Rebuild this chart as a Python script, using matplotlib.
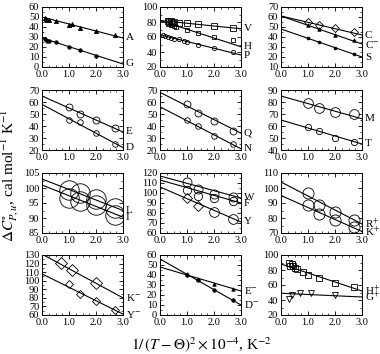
import matplotlib
matplotlib.use("Agg")
import matplotlib.pyplot as plt
import numpy as np
from matplotlib.ticker import MultipleLocator

plt.rcParams['font.family'] = ['Liberation Serif', 'DejaVu Serif']
plt.rcParams['mathtext.fontset'] = 'stix'
plt.rcParams['xtick.direction'] = 'in'
plt.rcParams['ytick.direction'] = 'in'
plt.rcParams['xtick.top'] = True
plt.rcParams['ytick.right'] = True

A_x = [0.1, 0.15, 0.2, 0.25, 0.5, 1.0, 1.1, 1.4, 2.0, 2.7]
A_y = [49, 48, 47, 47, 46, 42, 43, 39, 36, 32]
G_x = [0.1, 0.2, 0.25, 0.5, 1.0, 1.4, 2.0]
G_y = [28, 26, 26, 25, 20, 17, 11]

V_x = [0.3, 0.35, 0.4, 0.45, 0.5, 0.7, 1.0, 1.4, 2.0, 2.7]
V_y = [81, 80, 81, 79, 80, 79, 79, 78, 75, 72]
H_x = [0.3, 0.4, 0.5, 0.6, 1.0, 1.4, 2.0, 2.7]
H_y = [77, 76, 75, 74, 70, 66, 60, 56]
P_x = [0.1, 0.2, 0.3, 0.4, 0.5, 0.7, 0.9, 1.0, 1.4, 2.0, 2.7]
P_y = [63, 62, 60, 59, 58, 57, 55, 54, 50, 45, 40]

C_x = [1.0, 1.4, 2.0, 2.7]
C_y = [55, 52, 49, 45]
Cm_y = [52, 48, 42, 37]
S_y = [39, 35, 29, 23]

E_y = [56, 50, 45, 38]
D_y = [45, 43, 34, 25]
Q_y = [58, 51, 44, 36]
N_y = [45, 40, 32, 25]
M_y = [79, 75, 72, 70]
T_y = [59, 56, 50, 47]
L_y = [99.2, 98.5, 96.2, 93.2]
I_y = [96.8, 95.6, 94.4, 90.9]
W_y = [111, 104, 99, 96]
F_y = [103, 97, 95, 92]
Yd_x = [1.0, 1.4]
Yd_y = [95, 87]
Yc_x = [2.0, 2.7]
Yc_y = [81, 74]
R_y = [97, 89, 84, 79]
K_y = [89, 83, 79, 74]

Km_x = [0.7, 1.1, 2.0]
Km_y = [121, 112, 97]
Ym_x = [1.0, 1.4, 2.0, 2.7]
Ym_y = [96, 85, 76, 66]
Em_y = [41, 36, 31, 26]
Dm_y = [40, 35, 25, 15]

Hp_x = [0.3, 0.35, 0.4, 0.45, 0.5, 0.6, 0.8, 1.0, 1.4, 2.0, 2.7]
Hp_y = [89, 86, 88, 85, 83, 81, 78, 74, 69, 63, 57]
Gp_x = [0.3, 0.4, 0.7, 1.1, 2.0]
Gp_y = [42, 47, 50, 50, 47]

# fitted lines: value at x=0 and at x=3
fits = {
    'A': (50, 29), 'G': (29, 3),
    'V': (82, 71), 'H': (82, 47), 'P': (63, 36),
    'C': (61, 42), 'C-': (61, 33), 'S': (48, 20),
    'E': (65, 35), 'D': (58, 22),
    'Q': (68, 34), 'N': (56, 21),
    'M': (85, 66), 'T': (65, 45),
    'L': (103, 92.5), 'I': (101, 90.3),
    'W': (117, 95), 'F': (113, 90), 'Y': (106, 71),
    'R+': (104, 76), 'K+': (95, 71),
    'K-': (131, 80), 'Y-': (108, 61),
    'E-': (48, 24), 'D-': (56, 10),
    'H+': (88, 52), 'G+': (49, 44),
}
labels = {'C-': 'C$^{-}$', 'R+': 'R$^{+}$', 'K+': 'K$^{+}$', 'K-': 'K$^{-}$',
          'Y-': 'Y$^{-}$', 'E-': 'E$^{-}$', 'D-': 'D$^{-}$', 'H+': 'H$^{+}$',
          'G+': 'G$^{+}$'}

# (ylim, y step, lines, marker sets (x, y, marker, size, filled))
panels = [
    ((0, 60), 10, ['A', 'G'],
     [(A_x, A_y, '^', 3, True), (G_x, G_y, 'o', 2.5, True)]),
    ((20, 100), 20, ['V', 'H', 'P'],
     [(V_x, V_y, 's', 4, False), (H_x, H_y, 's', 3.5, False), (P_x, P_y, 'o', 3, False)]),
    ((10, 70), 10, ['C', 'C-', 'S'],
     [(C_x, C_y, 'D', 4.5, False), (C_x, Cm_y, '^', 2.5, True), (C_x, S_y, 'o', 2, True)]),
    ((20, 70), 10, ['E', 'D'],
     [(C_x, E_y, 'o', 5, False), (C_x, D_y, 'o', 4, False)]),
    ((20, 70), 10, ['Q', 'N'],
     [(C_x, Q_y, 'o', 5, False), (C_x, N_y, 'o', 4, False)]),
    ((40, 90), 10, ['M', 'T'],
     [(C_x, M_y, 'o', 7, False), (C_x, T_y, 'o', 4.5, False)]),
    ((85, 105), 5, ['L', 'I'],
     [(C_x, L_y, 'o', 14, False), (C_x, I_y, 'o', 14, False)]),
    ((60, 120), 10, ['W', 'F', 'Y'],
     [(C_x, W_y, 'o', 6.5, False), (C_x, F_y, 'o', 6, False),
      (Yd_x, Yd_y, 'D', 5.5, False), (Yc_x, Yc_y, 'o', 7, False)]),
    ((70, 110), 10, ['R+', 'K+'],
     [(C_x, R_y, 'o', 8, False), (C_x, K_y, 'o', 8, False)]),
    ((60, 130), 10, ['K-', 'Y-'],
     [(Km_x, Km_y, 'D', 6, False), (Ym_x, Ym_y, 'D', 4, False)]),
    ((0, 60), 10, ['E-', 'D-'],
     [(C_x, Em_y, '^', 2.5, True), (C_x, Dm_y, 'o', 2.5, True)]),
    ((20, 100), 20, ['H+', 'G+'],
     [(Hp_x, Hp_y, 's', 4, False), (Gp_x, Gp_y, 'v', 4, False)]),
]

W, Hh = 380, 354
fig = plt.figure(figsize=(W / 100, Hh / 100), dpi=100)
lefts = [42, 160, 281]
tops = [7, 90, 173, 255]
aw, ah = 81, 60

for i, (ylim, step, lines, marks) in enumerate(panels):
    r, c = divmod(i, 3)
    ax = fig.add_axes([lefts[c] / W, 1 - (tops[r] + ah) / Hh, aw / W, ah / Hh])
    for key in lines:
        y0, y3 = fits[key]
        ax.plot([0, 3], [y0, y3], color='k', lw=0.8)
        ax.annotate(labels.get(key, key),
                    xy=(1.0, (y3 - ylim[0]) / (ylim[1] - ylim[0])),
                    xycoords='axes fraction', xytext=(2, 0), textcoords='offset points',
                    va='center', ha='left', fontsize=8, annotation_clip=False)
    for xs, ys, mk, ms, filled in marks:
        ax.plot(xs, ys, ls='none', marker=mk, ms=ms, mec='k', mew=0.6,
                mfc='k' if filled else 'none')
    ax.set_xlim(0, 3)
    ax.set_ylim(*ylim)
    ax.xaxis.set_major_locator(MultipleLocator(1.0))
    ax.xaxis.set_minor_locator(MultipleLocator(0.25))
    ax.yaxis.set_major_locator(MultipleLocator(step))
    ax.yaxis.set_minor_locator(MultipleLocator(step / 2))
    ax.set_xticklabels([f'{v:.1f}' for v in ax.get_xticks()])
    ax.tick_params(labelsize=7.5, length=3, width=0.6, pad=2)
    ax.tick_params(which='minor', length=1.5, width=0.5)
    for s in ax.spines.values():
        s.set_linewidth(0.7)

fig.text(10 / W, 0.505, r'$\Delta C^{\circ}_{P,u}$, cal mol$^{-1}$ K$^{-1}$',
         rotation=90, ha='center', va='center', fontsize=11)
fig.text(0.53, 1 - 345 / Hh, r'$1/\,(T-\Theta)^2\times10^{-4}$, K$^{-2}$',
         ha='center', va='center', fontsize=11)

fig.savefig('out.png', dpi=100)
